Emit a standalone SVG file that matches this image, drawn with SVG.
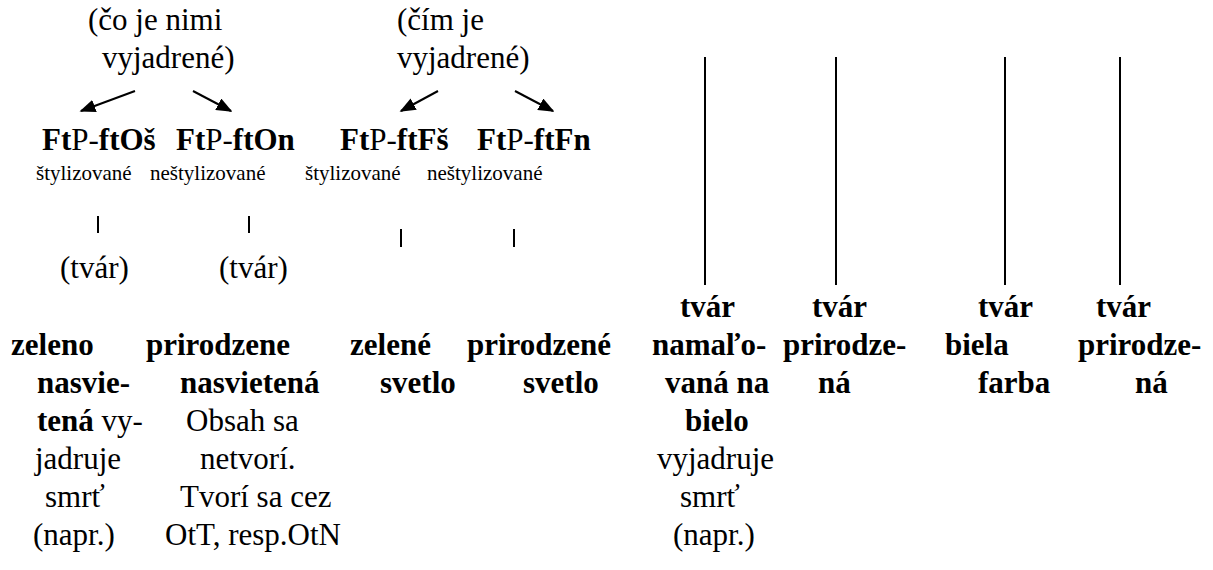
<svg xmlns="http://www.w3.org/2000/svg" width="1213" height="570" viewBox="0 0 1213 570">
<defs>
<marker id="ah" viewBox="0 0 10 10" refX="9" refY="5" markerWidth="16" markerHeight="13" orient="auto" markerUnits="userSpaceOnUse" preserveAspectRatio="none">
<path d="M0,0 L10,5 L0,10 z" fill="#000"/>
</marker>
</defs>
<rect width="1213" height="570" fill="#fff"/>
<g id="connectors" stroke="#000" stroke-width="2" fill="none">
<line x1="135" y1="91" x2="81" y2="111" marker-end="url(#ah)"/>
<line x1="193" y1="91" x2="231" y2="111" marker-end="url(#ah)"/>
<line x1="438" y1="91" x2="401" y2="111" marker-end="url(#ah)"/>
<line x1="515" y1="91" x2="553" y2="111" marker-end="url(#ah)"/>
<line x1="98" y1="216" x2="98" y2="233"/>
<line x1="249" y1="216" x2="249" y2="233"/>
<line x1="401" y1="229" x2="401" y2="247"/>
<line x1="514" y1="229" x2="514" y2="247"/>
<line x1="705" y1="57" x2="705" y2="285"/>
<line x1="836" y1="57" x2="836" y2="285"/>
<line x1="1005" y1="57" x2="1005" y2="285"/>
<line x1="1120" y1="57" x2="1120" y2="285"/>
</g>
<g id="head-obsah">
<text font-family="Times New Roman" font-size="31" x="88" y="30">(čo je nimi</text>
<text font-family="Times New Roman" font-size="31" x="102" y="68">vyjadrené)</text>
</g>
<g id="head-forma">
<text font-family="Times New Roman" font-size="31" x="397" y="30">(čím je</text>
<text font-family="Times New Roman" font-size="31" x="397" y="68">vyjadrené)</text>
</g>
<g id="n-ftOs">
<text font-family="Times New Roman" font-size="31" x="42" y="150"><tspan font-weight="bold">Ft</tspan>P-<tspan font-weight="bold">ftOš</tspan></text>
<text font-family="Times New Roman" font-size="21" x="36" y="180">štylizované</text>
</g>
<g id="n-ftOn">
<text font-family="Times New Roman" font-size="31" x="176" y="150"><tspan font-weight="bold">Ft</tspan>P-<tspan font-weight="bold">ftOn</tspan></text>
<text font-family="Times New Roman" font-size="21" x="150" y="180">neštylizované</text>
</g>
<g id="n-ftFs">
<text font-family="Times New Roman" font-size="31" x="340" y="150"><tspan font-weight="bold">Ft</tspan>P-<tspan font-weight="bold">ftFš</tspan></text>
<text font-family="Times New Roman" font-size="21" x="305" y="180">štylizované</text>
</g>
<g id="n-ftFn">
<text font-family="Times New Roman" font-size="31" x="477" y="150"><tspan font-weight="bold">Ft</tspan>P-<tspan font-weight="bold">ftFn</tspan></text>
<text font-family="Times New Roman" font-size="21" x="427" y="180">neštylizované</text>
</g>
<g id="n-tvar1"><text font-family="Times New Roman" font-size="31" x="60" y="278">(tvár)</text></g>
<g id="n-tvar2"><text font-family="Times New Roman" font-size="31" x="219" y="278">(tvár)</text></g>
<g id="n-zeleno">
<text font-family="Times New Roman" font-size="31" font-weight="bold" x="11" y="355">zeleno</text>
<text font-family="Times New Roman" font-size="31" font-weight="bold" x="37" y="393">nasvie-</text>
<text font-family="Times New Roman" font-size="31" x="37" y="431"><tspan font-weight="bold">tená</tspan> vy-</text>
<text font-family="Times New Roman" font-size="31" x="35" y="469">jadruje</text>
<text font-family="Times New Roman" font-size="31" x="45" y="507">smrť</text>
<text font-family="Times New Roman" font-size="31" x="33" y="545">(napr.)</text>
</g>
<g id="n-prirodzene">
<text font-family="Times New Roman" font-size="31" font-weight="bold" x="146" y="355">prirodzene</text>
<text font-family="Times New Roman" font-size="31" font-weight="bold" x="180" y="393">nasvietená</text>
<text font-family="Times New Roman" font-size="31" x="186" y="431">Obsah sa</text>
<text font-family="Times New Roman" font-size="31" x="200" y="469">netvorí.</text>
<text font-family="Times New Roman" font-size="31" x="180" y="507">Tvorí sa cez</text>
<text font-family="Times New Roman" font-size="31" x="165" y="545">OtT, resp.OtN</text>
</g>
<g id="n-zelene">
<text font-family="Times New Roman" font-size="31" font-weight="bold" x="350" y="355">zelené</text>
<text font-family="Times New Roman" font-size="31" font-weight="bold" x="380" y="393">svetlo</text>
</g>
<g id="n-prirodzene-svetlo">
<text font-family="Times New Roman" font-size="31" font-weight="bold" x="467" y="355">prirodzené</text>
<text font-family="Times New Roman" font-size="31" font-weight="bold" x="523" y="393">svetlo</text>
</g>
<g id="n-namalovana">
<text font-family="Times New Roman" font-size="31" font-weight="bold" x="680" y="317">tvár</text>
<text font-family="Times New Roman" font-size="31" font-weight="bold" x="652" y="355">namaľo-</text>
<text font-family="Times New Roman" font-size="31" font-weight="bold" x="665" y="393">vaná na</text>
<text font-family="Times New Roman" font-size="31" font-weight="bold" x="685" y="431">bielo</text>
<text font-family="Times New Roman" font-size="31" x="657" y="469">vyjadruje</text>
<text font-family="Times New Roman" font-size="31" x="680" y="507">smrť</text>
<text font-family="Times New Roman" font-size="31" x="673" y="545">(napr.)</text>
</g>
<g id="n-prirodzena1">
<text font-family="Times New Roman" font-size="31" font-weight="bold" x="812" y="317">tvár</text>
<text font-family="Times New Roman" font-size="31" font-weight="bold" x="783" y="355">prirodze-</text>
<text font-family="Times New Roman" font-size="31" font-weight="bold" x="818" y="393">ná</text>
</g>
<g id="n-biela">
<text font-family="Times New Roman" font-size="31" font-weight="bold" x="978" y="317">tvár</text>
<text font-family="Times New Roman" font-size="31" font-weight="bold" x="945" y="355">biela</text>
<text font-family="Times New Roman" font-size="31" font-weight="bold" x="978" y="393">farba</text>
</g>
<g id="n-prirodzena2">
<text font-family="Times New Roman" font-size="31" font-weight="bold" x="1096" y="317">tvár</text>
<text font-family="Times New Roman" font-size="31" font-weight="bold" x="1078" y="355">prirodze-</text>
<text font-family="Times New Roman" font-size="31" font-weight="bold" x="1135" y="393">ná</text>
</g>
</svg>
